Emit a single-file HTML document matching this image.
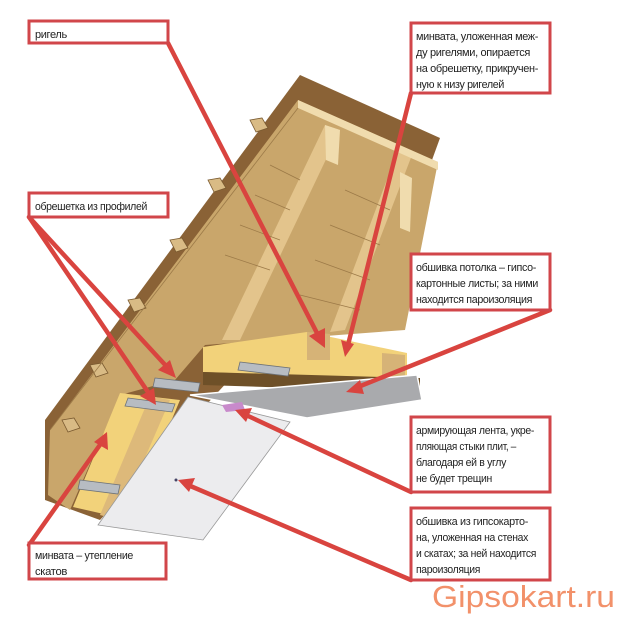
<!DOCTYPE html>
<html><head><meta charset="utf-8"><style>
html,body{margin:0;padding:0;background:#fff;}
svg{display:block}
text{font-family:"Liberation Sans",sans-serif;font-size:11px;letter-spacing:-0.35px;fill:#222;}
</style></head><body>
<svg width="620" height="620" viewBox="0 0 620 620" xmlns="http://www.w3.org/2000/svg">
<polygon points="300,75 440,138 432,160 100,520 45,500 45,420" fill="#8a6236"/>
<polygon points="298,100 438,162 405,330 205,345 175,380 120,395 70,510 48,495 50,430" fill="#c9a66b"/>
<g fill="#d9bb85" stroke="#7a5a30" stroke-width="0.8">
<polygon points="250,120 262,118 268,128 256,132"/>
<polygon points="208,180 220,178 226,188 214,192"/>
<polygon points="170,240 182,238 188,248 176,252"/>
<polygon points="128,300 140,298 146,308 134,312"/>
<polygon points="90,365 102,363 108,373 96,377"/>
<polygon points="62,420 74,418 80,428 68,432"/>
</g>
<polygon points="325,125 340,130 240,340 222,340" fill="#e3c48c"/>
<polygon points="398,150 412,155 345,330 330,332" fill="#e3c48c"/>
<polygon points="325,125 340,130 338,165 326,160" fill="#f0dcae"/>
<polygon points="400,172 412,178 410,232 400,228" fill="#f0dcae"/>
<polygon points="298,100 438,162 438,170 298,108" fill="#f0dcae"/>
<g stroke="#9c7a48" stroke-width="0.8" fill="none">
<line x1="298" y1="108" x2="50" y2="430"/>
<line x1="270" y1="165" x2="300" y2="180"/><line x1="255" y1="195" x2="290" y2="210"/>
<line x1="240" y1="225" x2="280" y2="240"/><line x1="225" y1="255" x2="270" y2="270"/>
<line x1="345" y1="190" x2="390" y2="210"/><line x1="330" y1="225" x2="380" y2="245"/>
<line x1="315" y1="260" x2="370" y2="280"/><line x1="300" y1="295" x2="360" y2="310"/>
</g>
<polygon points="203,347 307,332 407,353 407,380 203,372" fill="#f2d27a"/>
<polygon points="307,332 330,334 330,360 307,360" fill="#d6b377"/>
<polygon points="382,353 405,355 405,380 382,380" fill="#d6b377"/>
<polygon points="203,372 420,378 420,392 203,385" fill="#6e5028"/>
<polygon points="120,393 180,400 130,520 73,507" fill="#f2d27a"/>
<polygon points="150,396 170,400 118,520 100,515" fill="#ddb97a"/>
<g fill="#b7bcc2" stroke="#6d7278" stroke-width="0.8">
<polygon points="155,378 200,383 198,392 153,387"/>
<polygon points="240,362 290,368 288,376 238,370"/>
<polygon points="128,398 175,404 172,412 125,406"/>
<polygon points="80,480 120,485 118,494 78,489"/>
</g>
<polygon points="190,395 417,375 422,400 307,418" fill="#a9aaad" stroke="#fff" stroke-width="1.5"/>
<polygon points="188,397 290,422 203,540 98,525" fill="#ececee" stroke="#999" stroke-width="0.8"/>
<polygon points="222,405 242,402 245,410 226,412" fill="#c88acb"/>
<circle cx="176" cy="480" r="1.5" fill="#446"/>
<g stroke="#d9443f" stroke-width="4.5" stroke-linecap="round" fill="none">
<line x1="168" y1="43" x2="318" y2="335"/>
<line x1="411" y1="93" x2="348" y2="345"/>
<line x1="29" y1="217" x2="168" y2="368"/>
<line x1="29" y1="217" x2="150" y2="395"/>
<line x1="550" y1="310" x2="358" y2="387"/>
<line x1="411" y1="492" x2="246" y2="415"/>
<line x1="411" y1="580" x2="188" y2="485"/>
<line x1="29" y1="545" x2="102" y2="442"/>
</g>
<g fill="#d9443f">
<polygon points="325,348 309,336 325,328"/>
<polygon points="345,357 341,340 354,344"/>
<polygon points="176,378 158,370 170,360"/>
<polygon points="156,405 140,396 154,388"/>
<polygon points="346,392 360,380 364,394"/>
<polygon points="235,410 252,408 246,422"/>
<polygon points="178,480 195,478 189,492"/>
<polygon points="107,432 108,450 94,442"/>
</g>
<g fill="#fff" stroke="#d1464a" stroke-width="3">
<rect x="29" y="21" width="139" height="22"/>
<rect x="411" y="23" width="139" height="70"/>
<rect x="29" y="193" width="139" height="24"/>
<rect x="411" y="254" width="139" height="56"/>
<rect x="411" y="417" width="139" height="75"/>
<rect x="411" y="508" width="139" height="72"/>
<rect x="29" y="543" width="137" height="36"/>
</g>
<text x="35" y="38">ригель</text>
<text x="416" y="40" textLength="122" lengthAdjust="spacingAndGlyphs">минвата, уложенная меж-</text>
<text x="416" y="56" textLength="114" lengthAdjust="spacingAndGlyphs">ду ригелями, опирается</text>
<text x="416" y="72" textLength="122" lengthAdjust="spacingAndGlyphs">на обрешетку, прикручен-</text>
<text x="416" y="88" textLength="88" lengthAdjust="spacingAndGlyphs">ную к низу ригелей</text>
<text x="35" y="210" textLength="112" lengthAdjust="spacingAndGlyphs">обрешетка из профилей</text>
<text x="416" y="271" textLength="120" lengthAdjust="spacingAndGlyphs">обшивка потолка – гипсо-</text>
<text x="416" y="287" textLength="122" lengthAdjust="spacingAndGlyphs">картонные листы; за ними</text>
<text x="416" y="303" textLength="116" lengthAdjust="spacingAndGlyphs">находится пароизоляция</text>
<text x="416" y="434" textLength="118" lengthAdjust="spacingAndGlyphs">армирующая лента, укре-</text>
<text x="416" y="450" textLength="100" lengthAdjust="spacingAndGlyphs">пляющая стыки плит, –</text>
<text x="416" y="466" textLength="90" lengthAdjust="spacingAndGlyphs">благодаря ей в углу</text>
<text x="416" y="482" textLength="76" lengthAdjust="spacingAndGlyphs">не будет трещин</text>
<text x="416" y="525" textLength="112" lengthAdjust="spacingAndGlyphs">обшивка из гипсокарто-</text>
<text x="416" y="541" textLength="112" lengthAdjust="spacingAndGlyphs">на, уложенная на стенах</text>
<text x="416" y="557" textLength="120" lengthAdjust="spacingAndGlyphs">и скатах; за ней находится</text>
<text x="416" y="573" textLength="64" lengthAdjust="spacingAndGlyphs">пароизоляция</text>
<text x="35" y="559" textLength="98" lengthAdjust="spacingAndGlyphs">минвата – утепление</text>
<text x="35" y="575" textLength="32" lengthAdjust="spacingAndGlyphs">скатов</text>
<text x="432" y="607" textLength="183" lengthAdjust="spacingAndGlyphs" style="font-family:'Liberation Sans',sans-serif;font-size:31px;letter-spacing:0;fill:#f2916a;">Gipsokart.ru</text>
</svg>
</body></html>
